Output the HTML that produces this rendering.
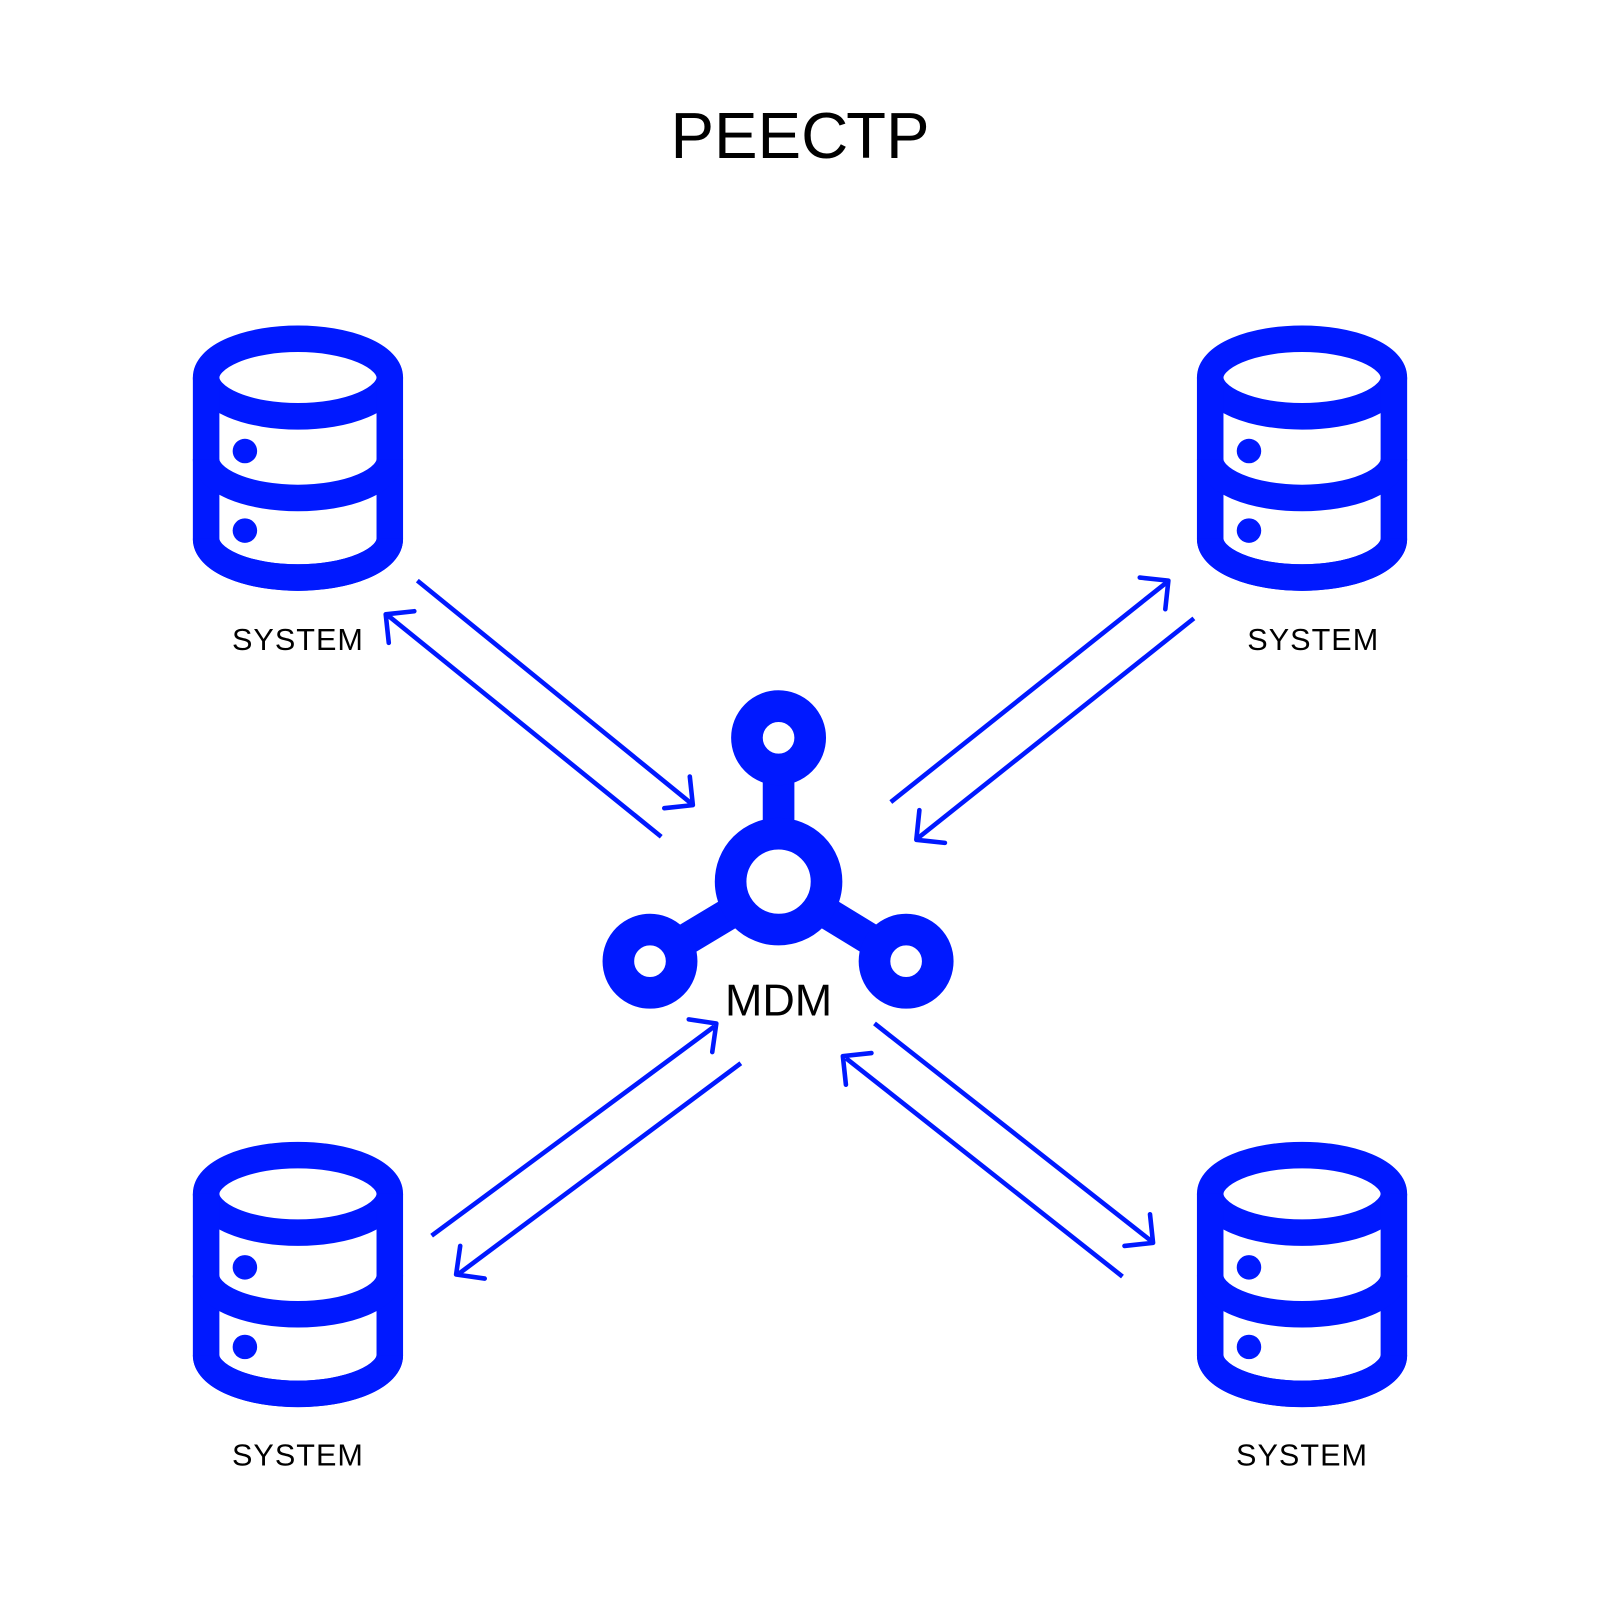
<!DOCTYPE html>
<html><head><meta charset="utf-8"><style>
html,body{margin:0;padding:0;background:#fff;width:1600px;height:1600px;overflow:hidden}
svg{display:block}
</style></head><body>
<svg width="1600" height="1600" viewBox="0 0 1568 1568" xmlns="http://www.w3.org/2000/svg">
<defs>
<g id="db" fill="none" stroke="#0019FF" stroke-width="26">
  <ellipse cx="0" cy="50" rx="90" ry="38"/>
  <path d="M-90 50 V208 A90 38 0 0 0 90 208 V50"/>
  <path d="M-90 130 A90 38 0 0 0 90 130"/>
  <path d="M-90 208 A90 38 0 0 0 90 208"/>
  <circle cx="-52" cy="122" r="12" fill="#0019FF" stroke="none"/>
  <circle cx="-52" cy="200" r="12" fill="#0019FF" stroke="none"/>
</g>
</defs>
<text x="784" y="155" text-anchor="middle" font-family="Liberation Sans, sans-serif" font-size="64" fill="#000">РЕЕСТР</text>

<use href="#db" x="292" y="320"/>
<use href="#db" x="1276" y="320"/>
<use href="#db" x="292" y="1120"/>
<use href="#db" x="1276" y="1120"/>

<g font-family="Liberation Sans, sans-serif" font-size="30" fill="#000" text-anchor="middle" letter-spacing="1">
<text x="292" y="637">SYSTEM</text>
<text x="1287" y="637">SYSTEM</text>
<text x="292" y="1436">SYSTEM</text>
<text x="1276" y="1436">SYSTEM</text>
</g>

<g fill="none" stroke="#0019FF" stroke-width="31">
  <line x1="763" y1="755" x2="763" y2="815"/>
  <line x1="665" y1="925" x2="725" y2="889"/>
  <line x1="860" y1="925" x2="801" y2="889"/>
  <circle cx="763" cy="864" r="47"/>
  <circle cx="763" cy="723" r="31"/>
  <circle cx="637" cy="942" r="31"/>
  <circle cx="888" cy="942" r="31"/>
</g>
<text x="763" y="995" text-anchor="middle" font-family="Liberation Sans, sans-serif" font-size="44" fill="#000">MDM</text>

<g fill="none" stroke="#0019FF" stroke-width="4.5" stroke-linecap="butt">
  <line x1="409" y1="569" x2="677" y2="787"/>
  <path d="M676 761 L679 789 L651 792" stroke-linecap="round" stroke-linejoin="round"/>
  <line x1="648" y1="820" x2="380" y2="603"/>
  <path d="M381 630 L378 602 L406 599" stroke-linecap="round" stroke-linejoin="round"/>

  <line x1="873" y1="786" x2="1143" y2="571"/>
  <path d="M1117 566 L1145 569 L1142 597" stroke-linecap="round" stroke-linejoin="round"/>
  <line x1="1170" y1="606" x2="900" y2="821"/>
  <path d="M901 794 L898 823 L926 826" stroke-linecap="round" stroke-linejoin="round"/>

  <line x1="423" y1="1211" x2="700" y2="1006"/>
  <path d="M675 999 L702 1003 L698 1031" stroke-linecap="round" stroke-linejoin="round"/>
  <line x1="726" y1="1042" x2="450" y2="1248"/>
  <path d="M451 1221 L447 1249 L475 1253" stroke-linecap="round" stroke-linejoin="round"/>

  <line x1="857" y1="1003" x2="1128" y2="1216"/>
  <path d="M1127 1190 L1130 1218 L1102 1221" stroke-linecap="round" stroke-linejoin="round"/>
  <line x1="1100" y1="1251" x2="829" y2="1037"/>
  <path d="M829 1063 L826 1035 L854 1032" stroke-linecap="round" stroke-linejoin="round"/>
</g>
</svg>
</body></html>
